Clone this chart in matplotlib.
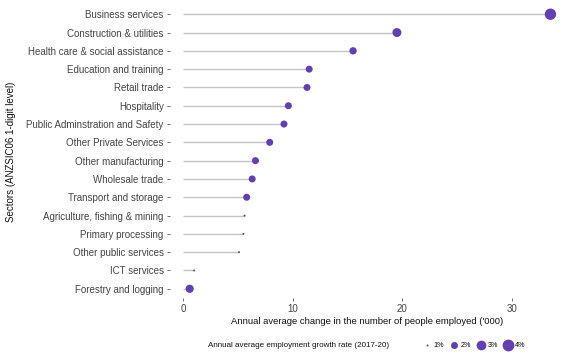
import numpy as np
import matplotlib
matplotlib.use('Agg')
import matplotlib.pyplot as plt
from matplotlib.lines import Line2D

plt.rcParams['font.family'] = ['Liberation Sans', 'DejaVu Sans']

# sectors, top to bottom
sectors = ['Business services', 'Construction & utilities', 'Health care & social assistance',
           'Education and training', 'Retail trade', 'Hospitality',
           'Public Adminstration and Safety', 'Other Private Services', 'Other manufacturing',
           'Wholesale trade', 'Transport and storage', 'Agriculture, fishing & mining',
           'Primary processing', 'Other public services', 'ICT services', 'Forestry and logging']
# annual average change in people employed ('000)
change = [33.5, 19.5, 15.5, 11.5, 11.3, 9.6, 9.2, 7.9, 6.6, 6.3, 5.8, 5.6, 5.5, 5.1, 1.0, 0.6]
# annual average employment growth rate (%)
growth = [3.8, 2.7, 2.1, 2.0, 2.0, 2.0, 2.0, 2.0, 2.0, 2.0, 2.0, 1.0, 1.0, 1.0, 1.0, 2.4]

legend_rates = [1, 2, 3, 4]
purple = '#6240b0'

def dot_size(r):
    # area (pt^2) from diameter in px, ggplot-like area scaling
    d_px = np.sqrt(4 + 45 * (np.asarray(r, dtype=float) - 1))
    return (d_px * 0.72) ** 2

fig = plt.figure(figsize=(5.78, 3.62), dpi=100)
ax = fig.add_axes([0.294, 0.177, 0.683, 0.809])

y = np.arange(len(sectors))
ax.hlines(y, 0, change, color='#c4c4c4', linewidth=1.0, zorder=1)
ax.scatter(change, y, s=dot_size(growth), color=purple, edgecolor='none', zorder=2)

ax.set_ylim(len(sectors) - 0.5, -0.5)
ax.set_xlim(-1.2, 34.8)
ax.set_yticks(y)
ax.set_yticklabels(sectors)
ax.set_xticks([0, 10, 20, 30])

for s in ax.spines.values():
    s.set_visible(False)
ax.tick_params(axis='both', length=2.5, width=0.6, color='#555555', labelcolor='#444444',
               labelsize=7, pad=2)

ax.set_xlabel("Annual average change in the number of people employed ('000)",
              fontsize=6.8, color='#111111', labelpad=2)
ax.set_ylabel('Sectors (ANZSIC06 1-digit level)', fontsize=7, color='#111111')
ax.yaxis.set_label_coords(-0.39, 0.5)

# legend at the bottom
fig.text(0.36, 0.045, 'Annual average employment growth rate (2017-20)',
         fontsize=5.8, color='#111111', va='center')
handles = [Line2D([], [], marker='o', linestyle='none', color=purple,
                  markersize=np.sqrt(dot_size(r)), markeredgewidth=0)
           for r in legend_rates]
fig.legend(handles, [f'{r}%' for r in legend_rates], loc='center left',
           bbox_to_anchor=(0.725, 0.045), ncol=4, frameon=False, fontsize=5.2,
           handletextpad=0.3, columnspacing=0.8, handlelength=1.2, borderpad=0)

fig.savefig('out.png', dpi=100)
